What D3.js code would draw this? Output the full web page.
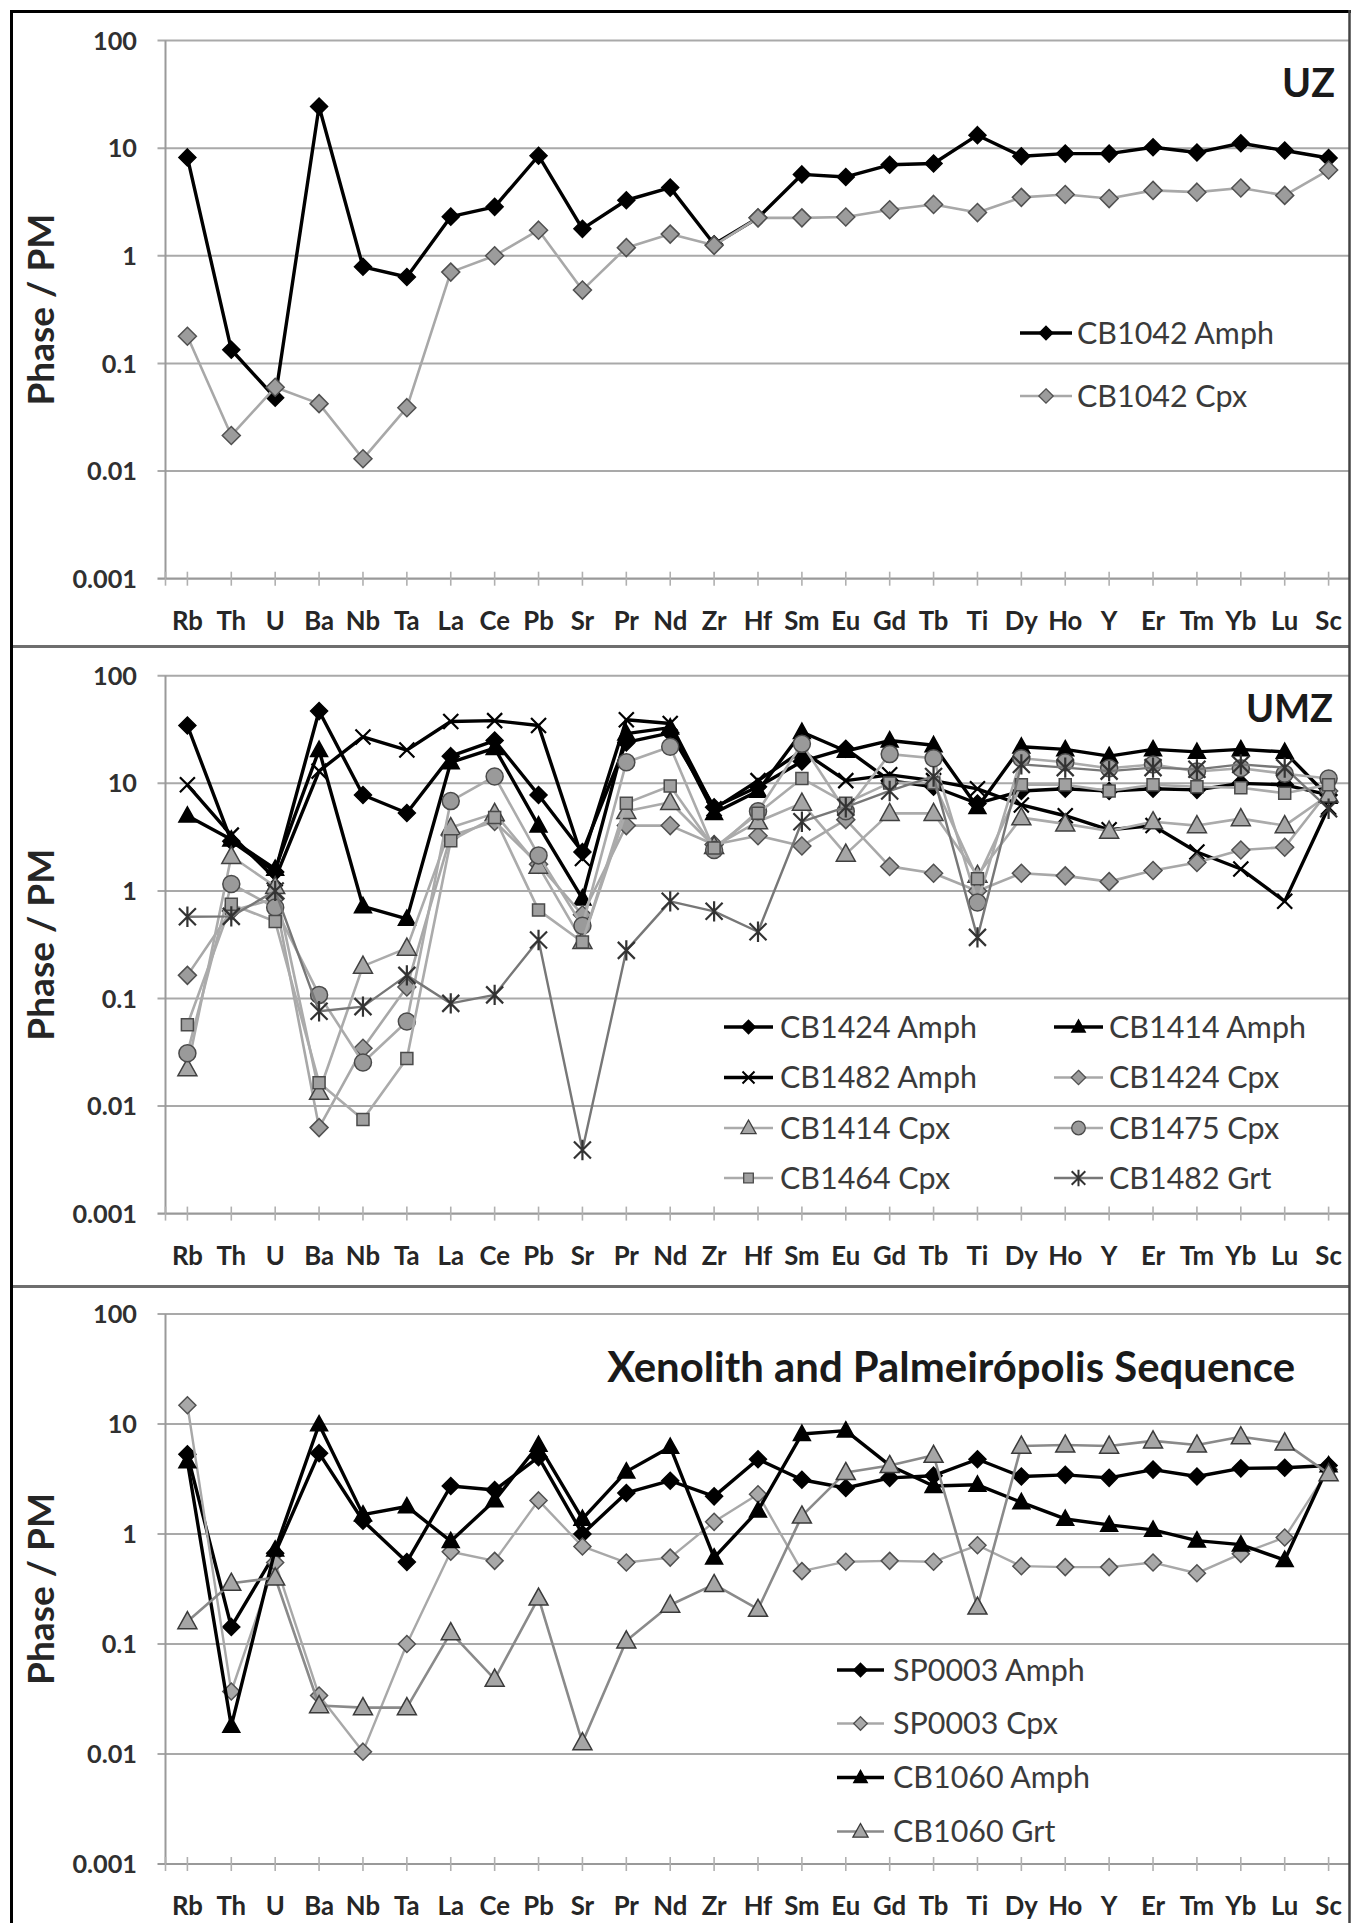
<!DOCTYPE html>
<html><head><meta charset="utf-8">
<script src="https://cdn.jsdelivr.net/npm/d3@7"></script>
<style>
body{margin:0;background:#fff}
svg{display:block}
text{font-family:Lato,"Open Sans","DejaVu Sans",sans-serif}
</style>
</head><body>
<svg id="c" width="1356" height="1923"></svg>
<script>
// ---------------- DATA ----------------
const categories = ["Rb","Th","U","Ba","Nb","Ta","La","Ce","Pb","Sr","Pr","Nd","Zr","Hf","Sm","Eu","Gd","Tb","Ti","Dy","Ho","Y","Er","Tm","Yb","Lu","Sc"];
const yTickValues = [0.001, 0.01, 0.1, 1, 10, 100];
const yTickLabels = ["0.001", "0.01", "0.1", "1", "10", "100"];
const yAxisTitle = "Phase / PM";
const panelTitles = ["UZ", "UMZ", "Xenolith and Palmeirópolis Sequence"];

// Panel 1 (UZ)
const uzNames = ["CB1042 Amph", "CB1042 Cpx"];
const cb1042Amph = [8.2,0.134,0.048,24.4,0.79,0.635,2.31,2.85,8.5,1.78,3.28,4.3,1.28,2.25,5.7,5.4,7.0,7.2,13.2,8.4,8.9,8.9,10.2,9.1,11.1,9.5,8.1];
const cb1042Cpx  = [0.179,0.0214,0.060,0.0423,0.013,0.0388,0.705,1.0,1.73,0.48,1.19,1.59,1.25,2.25,2.25,2.29,2.68,3.0,2.52,3.49,3.71,3.4,4.05,3.9,4.26,3.64,6.26];

// Panel 2 (UMZ)
const umzNames = ["CB1424 Amph","CB1414 Amph","CB1482 Amph","CB1424 Cpx","CB1414 Cpx","CB1475 Cpx","CB1464 Cpx","CB1482 Grt"];
const cb1424Amph = [34.5,2.9,1.5,47,7.8,5.3,17.9,25,7.8,2.3,24,29.5,6.0,9.3,16,21,10.6,9.3,6.5,8.5,8.9,8.5,8.9,8.7,10,9.7,7.8];
const cb1414Amph = [5.0,3.0,1.6,20.4,0.72,0.55,15.7,21.3,4.05,0.85,29,33,5.3,8.5,30,20,25,22.6,6.0,21.9,20.7,17.9,20.7,19.6,20.7,19.6,7.5];
const cb1482Amph = [9.7,3.3,1.3,13,27,20.4,37.6,38.3,34.5,2.0,39,36,5.8,10.6,20,10.6,12,10.6,8.9,6.3,5.0,3.7,4.05,2.3,1.6,0.8,6.0];
const cb1424Cpx  = [0.164,0.65,0.85,0.0063,0.0345,0.128,3.26,4.42,1.77,0.6,4.05,4.05,2.7,3.26,2.62,4.6,1.69,1.46,1.0,1.46,1.38,1.22,1.55,1.84,2.4,2.55,8.5];
const cb1414Cpx  = [0.0223,2.1,1.1,0.0135,0.2,0.294,3.88,5.26,1.7,0.34,5.5,6.67,2.6,4.4,6.55,2.2,5.26,5.26,1.4,4.8,4.2,3.6,4.4,4.05,4.7,4.05,7.8];
const cb1475Cpx  = [0.031,1.16,0.70,0.108,0.0254,0.061,6.84,11.6,2.14,0.475,15.7,21.9,2.4,5.5,23.3,5.5,18.7,17.1,0.78,17.1,15.7,13.8,15,12.9,13.8,12.3,11.1];
const cb1464Cpx  = [0.057,0.75,0.52,0.0165,0.0075,0.0277,2.93,4.82,0.663,0.335,6.55,9.46,2.5,5.26,11.1,6.55,10.1,10.1,1.3,9.7,9.7,8.5,9.7,9.3,9.1,8.1,9.7];
const cb1482Grt  = [0.576,0.58,1.0,0.076,0.084,0.164,0.090,0.108,0.35,0.0039,0.28,0.80,0.646,0.417,4.4,6.0,8.5,11.6,0.37,15,14,13,14,13.5,15,14,5.8];

// Panel 3 (Xenolith and Palmeirópolis Sequence)
const xenNames = ["SP0003 Amph","SP0003 Cpx","CB1060 Amph","CB1060 Grt"];
const sp0003Amph = [5.3,0.143,0.67,5.43,1.32,0.557,2.73,2.51,5.0,1.0,2.36,3.05,2.2,4.78,3.11,2.62,3.24,3.39,4.78,3.33,3.45,3.24,3.85,3.33,3.95,4.0,4.2];
const sp0003Cpx  = [14.8,0.037,0.55,0.034,0.0105,0.10,0.69,0.57,2.02,0.77,0.55,0.61,1.29,2.3,0.46,0.56,0.57,0.56,0.79,0.51,0.50,0.50,0.55,0.44,0.66,0.93,3.85];
const cb1060Amph = [4.57,0.018,0.72,9.9,1.5,1.78,0.86,2.02,6.45,1.37,3.69,6.18,0.61,1.63,8.1,8.7,4.2,2.73,2.8,1.94,1.37,1.21,1.09,0.87,0.80,0.58,4.2];
const cb1060Grt  = [0.16,0.357,0.40,0.0276,0.0264,0.0264,0.127,0.048,0.262,0.0127,0.107,0.226,0.348,0.207,1.46,3.63,4.2,5.2,0.217,6.3,6.45,6.3,7.03,6.45,7.66,6.74,3.54];

// ---------------- STYLES ----------------
const ST = {
  blackDiamond: {line:"#000", lw:3.4, marker:"diamond", fill:"#000", stroke:"#000", size:8.5},
  grayDiamond:  {line:"#a8a8a8", lw:2.6, marker:"diamond", fill:"#9c9c9c", stroke:"#505050", size:9},
  blackTriangle:{line:"#000", lw:3.4, marker:"triangle", fill:"#000", stroke:"#000", size:8.5},
  blackX:       {line:"#000", lw:3.4, marker:"x", fill:"none", stroke:"#000", size:7.5},
  grayTriangle: {line:"#ababab", lw:2.6, marker:"triangle", fill:"#a6a6a6", stroke:"#404040", size:9.5},
  grayCircle:   {line:"#ababab", lw:2.6, marker:"circle", fill:"#9a9a9a", stroke:"#4a4a4a", size:8.5},
  graySquare:   {line:"#ababab", lw:2.6, marker:"square", fill:"#a0a0a0", stroke:"#4a4a4a", size:6},
  star:         {line:"#777", lw:2.4, marker:"star", fill:"none", stroke:"#333", size:8.5},
  grayTriangleDark: {line:"#8a8a8a", lw:2.6, marker:"triangle", fill:"#a6a6a6", stroke:"#3a3a3a", size:9.5},
  grayDiamondSmall: {line:"#a8a8a8", lw:2.4, marker:"diamond", fill:"#a8a8a8", stroke:"#505050", size:8.5}
};

function markerPath(type, r) {
  switch (type) {
    case "diamond": return `M0,${-r}L${r},0L0,${r}L${-r},0Z`;
    case "triangle": return `M0,${-r*1.05}L${r},${r*0.75}L${-r},${r*0.75}Z`;
    case "square": return `M${-r},${-r}H${r}V${r}H${-r}Z`;
    case "circle": return d3.symbol(d3.symbolCircle, Math.PI*r*r)();
    case "x": return `M${-r},${-r}L${r},${r}M${-r},${r}L${r},${-r}`;
    case "star": return `M${-r},${-r}L${r},${r}M${-r},${r}L${r},${-r}M0,${-r*1.2}V${r*1.2}`;
  }
}

// ---------------- LAYOUT ----------------
const svg = d3.select("#c");
const W = 1356, H = 1923;
svg.append("rect").attr("width", W).attr("height", H).attr("fill", "#fff");

const x = d3.scalePoint().domain(categories).range([187.4, 1328.6]);
const plotLeft = 165.5, plotRight = 1349;

function fitSize(str, weight, targetW, base) {
  const t = svg.append("text").attr("font-size", base).attr("font-weight", weight).text(str);
  const w = t.node().getComputedTextLength();
  t.remove();
  return base * targetW / w;
}
const fsTick = fitSize("100", "bold", 44, 24);
const fsCat = fitSize("Rb", "bold", 31, 24);
const fsLegend = fitSize("CB1424 Amph", "normal", 197, 28);
const fsYTitle = fitSize(yAxisTitle, "bold", 192, 32);

const panels = [
  {y0: 40.5, y1: 578.7, title: panelTitles[0], titleRight: 1335, titleBase: 96.5, titleW: 53,
   series: [[uzNames[0], cb1042Amph, ST.blackDiamond],[uzNames[1], cb1042Cpx, ST.grayDiamond]],
   legend: {rows:[333, 396], cols:[[1020,1072,1077]], perRow:1}},
  {y0: 675.8, y1: 1213.6, title: panelTitles[1], titleRight: 1333, titleBase: 721.5, titleW: 87,
   series: [[umzNames[0], cb1424Amph, ST.blackDiamond],[umzNames[1], cb1414Amph, ST.blackTriangle],
            [umzNames[2], cb1482Amph, ST.blackX],[umzNames[3], cb1424Cpx, ST.grayDiamond],
            [umzNames[4], cb1414Cpx, ST.grayTriangle],[umzNames[5], cb1475Cpx, ST.grayCircle],
            [umzNames[6], cb1464Cpx, ST.graySquare],[umzNames[7], cb1482Grt, ST.star]],
   legend: {rows:[1027, 1077.5, 1128, 1178], cols:[[724,773,780],[1054,1103,1109]], perRow:2}},
  {y0: 1314, y1: 1864, title: panelTitles[2], titleRight: 1295, titleBase: 1381.5, titleW: 688,
   series: [[xenNames[0], sp0003Amph, ST.blackDiamond],[xenNames[1], sp0003Cpx, ST.grayDiamondSmall],
            [xenNames[2], cb1060Amph, ST.blackTriangle],[xenNames[3], cb1060Grt, ST.grayTriangleDark]],
   legend: {rows:[1670, 1723.5, 1777.5, 1831.5], cols:[[837,884,893]], perRow:1}}
];

// ---------------- FRAMES ----------------
svg.append("line").attr("x1", 11).attr("x2", 1350).attr("y1", 646.5).attr("y2", 646.5).attr("stroke", "#6e6e6e").attr("stroke-width", 3);
svg.append("line").attr("x1", 11).attr("x2", 1350).attr("y1", 1286.5).attr("y2", 1286.5).attr("stroke", "#6e6e6e").attr("stroke-width", 3);

panels.forEach(p => {
  const y = d3.scaleLog().domain([0.001, 100]).range([p.y1, p.y0]);
  const g = svg.append("g");

  g.selectAll("line.grid").data(yTickValues.slice(1)).join("line")
    .attr("x1", plotLeft - 8).attr("x2", plotRight)
    .attr("y1", d => y(d)).attr("y2", d => y(d))
    .attr("stroke", "#a9a9a9").attr("stroke-width", 2);

  g.append("line").attr("x1", plotLeft).attr("x2", plotLeft).attr("y1", p.y0).attr("y2", p.y1)
    .attr("stroke", "#9a9a9a").attr("stroke-width", 2);

  const xAxis = d3.axisBottom(x).tickSize(0).tickFormat("");
  const ax = g.append("g").attr("transform", `translate(0,${y(0.001)})`).call(xAxis);
  ax.select(".domain").remove();
  g.append("line").attr("x1", plotLeft - 8).attr("x2", plotRight).attr("y1", y(0.001)).attr("y2", y(0.001))
    .attr("stroke", "#999").attr("stroke-width", 2.2);
  g.selectAll("line.tk").data(categories).join("line")
    .attr("x1", d => x(d)).attr("x2", d => x(d))
    .attr("y1", y(0.001) - 7).attr("y2", y(0.001) + 7)
    .attr("stroke", "#b0b0b0").attr("stroke-width", 1.6);
  g.append("line").attr("x1", plotLeft).attr("x2", plotLeft).attr("y1", y(0.001) - 7).attr("y2", y(0.001) + 7)
    .attr("stroke", "#b0b0b0").attr("stroke-width", 1.6);

  g.selectAll("text.cat").data(categories).join("text")
    .attr("x", d => x(d)).attr("y", y(0.001) + 42 + fsCat * 0.36)
    .attr("text-anchor", "middle").attr("font-weight", "bold").attr("font-size", fsCat)
    .attr("fill", "#262626").text(d => d);

  g.selectAll("text.yt").data(yTickValues).join("text")
    .attr("x", 137).attr("y", d => y(d) + fsTick * 0.36)
    .attr("text-anchor", "end").attr("font-weight", "bold").attr("font-size", fsTick)
    .attr("fill", "#303030").text((d, i) => yTickLabels[i]);

  const cy = (p.y0 + p.y1) / 2;
  g.append("text").attr("transform", `translate(${41 + fsYTitle*0.36},${cy}) rotate(-90)`)
    .attr("text-anchor", "middle").attr("font-weight", "bold").attr("font-size", fsYTitle)
    .attr("fill", "#262626").text(yAxisTitle);

  const fsTitle = fitSize(p.title, "bold", p.titleW, 38);
  g.append("text").attr("x", p.titleRight).attr("y", p.titleBase)
    .attr("text-anchor", "end").attr("font-weight", "bold").attr("font-size", fsTitle)
    .attr("fill", "#1a1a1a").text(p.title);

  const line = d3.line().x((d, i) => x(categories[i])).y(d => y(d));
  p.series.forEach(([name, vals, st]) => {
    const sg = g.append("g");
    sg.append("path").datum(vals).attr("d", line).attr("fill", "none")
      .attr("stroke", st.line).attr("stroke-width", st.lw).attr("stroke-linejoin", "round");
    sg.selectAll("path.m").data(vals).join("path")
      .attr("transform", (d, i) => `translate(${x(categories[i])},${y(d)})`)
      .attr("d", markerPath(st.marker, st.size))
      .attr("fill", st.fill).attr("stroke", st.stroke)
      .attr("stroke-width", (st.marker === "x" || st.marker === "star") ? 2.2 : 1.5);
  });

  p.series.forEach(([name, vals, st], k) => {
    const row = Math.floor(k / p.legend.perRow), col = k % p.legend.perRow;
    const ly = p.legend.rows[row];
    const [lx1, lx2, tx] = p.legend.cols[col];
    const lg = g.append("g");
    lg.append("line").attr("x1", lx1).attr("x2", lx2).attr("y1", ly).attr("y2", ly)
      .attr("stroke", st.line).attr("stroke-width", st.lw);
    lg.append("path").attr("transform", `translate(${(lx1 + lx2) / 2},${ly})`)
      .attr("d", markerPath(st.marker, st.size * 0.8))
      .attr("fill", st.fill).attr("stroke", st.stroke)
      .attr("stroke-width", (st.marker === "x" || st.marker === "star") ? 2 : 1.3);
    lg.append("text").attr("x", tx).attr("y", ly + fsLegend * 0.36)
      .attr("font-size", fsLegend).attr("fill", "#3a3a3a").text(name);
  });
});

// outer frame
svg.append("line").attr("x1", 11.5).attr("x2", 11.5).attr("y1", 10).attr("y2", H).attr("stroke", "#000").attr("stroke-width", 3);
svg.append("line").attr("x1", 10).attr("x2", 1351).attr("y1", 11.5).attr("y2", 11.5).attr("stroke", "#000").attr("stroke-width", 3);
svg.append("line").attr("x1", 1349.5).attr("x2", 1349.5).attr("y1", 10).attr("y2", H).attr("stroke", "#444").attr("stroke-width", 2.5);
</script>
</body></html>
